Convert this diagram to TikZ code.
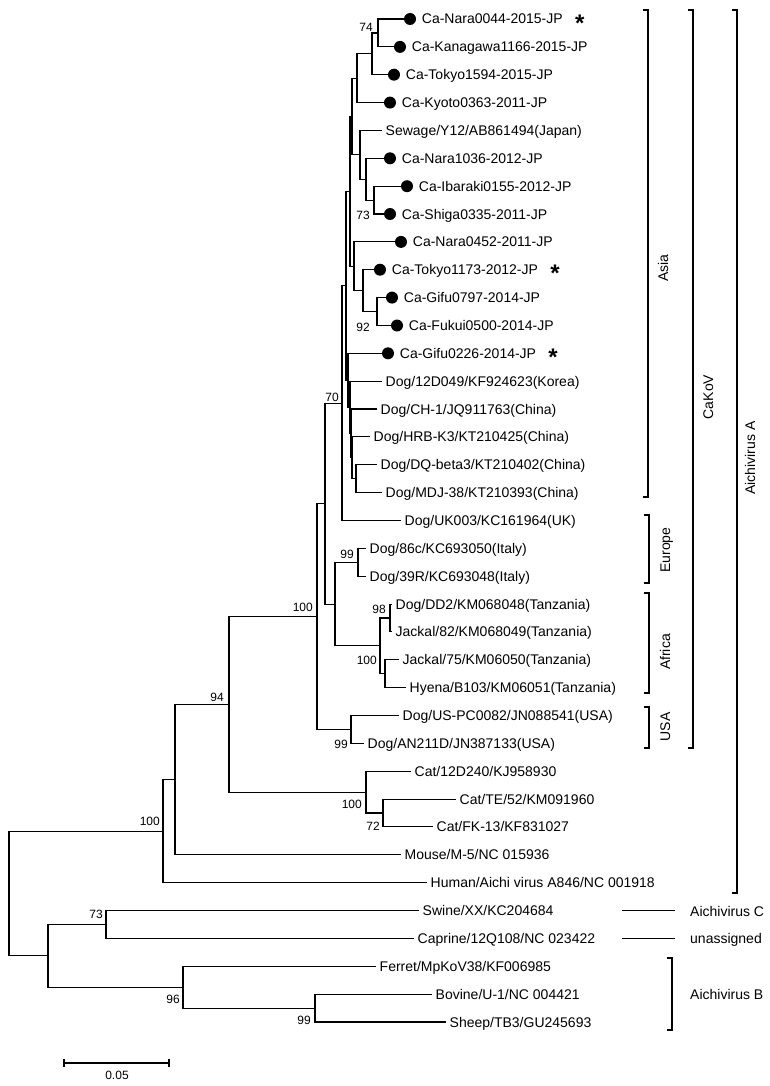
\documentclass[tikz,border=0pt]{standalone}
\usepackage{fontspec}
\setmainfont{Liberation Sans}
\usetikzlibrary{positioning}

\begin{document}
\begin{tikzpicture}[x=1pt, y=-1pt,
  branch/.style={line width=1.1pt},
  dot/.style={circle, fill, inner sep=0pt, minimum size=12pt},
  leaf/.style={font=\fontsize{14}{16}\selectfont, inner sep=0pt, text height=10pt, text depth=0pt},
  boot/.style={font=\fontsize{12}{14}\selectfont, inner sep=0pt, text height=8.6pt, text depth=0pt, anchor=east},
  star/.style={font=\fontsize{24}{26}\selectfont\bfseries, inner sep=0pt},
  clade/.style={font=\fontsize{14}{16}\selectfont, inner sep=0pt, text height=10pt, text depth=0pt}]
  \useasboundingbox (0,0) rectangle (770,1086);

  % nodi interni
  \coordinate (n74) at (378,33.0);
  \coordinate (na) at (372,53.9);
  \coordinate (nb) at (357,78.2);
  \coordinate (n73) at (374,200.1);
  \coordinate (nc6) at (366,179.2);
  \coordinate (ns) at (360,154.8);
  \coordinate (nc) at (352,116.5);
  \coordinate (n92) at (377,311.6);
  \coordinate (nt) at (363,290.6);
  \coordinate (np) at (354,266.3);
  \coordinate (nq) at (350,191.4);
  \coordinate (nd1) at (356,478.7);
  \coordinate (nd2) at (352,457.8);
  \coordinate (nd3) at (351,433.4);
  \coordinate (nk) at (350,407.3);
  \coordinate (ng) at (348,380.3);
  \coordinate (asia) at (346,285.9);
  \coordinate (n70) at (342,403.2);
  \coordinate (neu) at (358,562.3);
  \coordinate (n98) at (390,618.0);
  \coordinate (nj) at (385,673.7);
  \coordinate (naf) at (380,645.9);
  \coordinate (nea) at (335,604.1);
  \coordinate (nx) at (325,503.7);
  \coordinate (nusa) at (351,729.5);
  \coordinate (n100) at (317,616.6);
  \coordinate (ncat2) at (383,813.0);
  \coordinate (ncat) at (366,792.1);
  \coordinate (n94) at (229,704.4);
  \coordinate (nm) at (175,779.6);
  \coordinate (nA) at (163,831.2);
  \coordinate (nsc) at (106,924.5);
  \coordinate (nbs) at (315,1008.1);
  \coordinate (nfb) at (183,987.2);
  \coordinate (nbc) at (48,955.9);
  \coordinate (root) at (9,893.6);

  % foglie con pallino
  \node[dot] (d0) at (410,19.0) {};
  \node[dot] (d1) at (400,46.9) {};
  \node[dot] (d2) at (394,74.7) {};
  \node[dot] (d3) at (390,102.6) {};
  \node[dot] (d5) at (390,158.3) {};
  \node[dot] (d6) at (407,186.2) {};
  \node[dot] (d7) at (390,214.0) {};
  \node[dot] (d8) at (401,241.9) {};
  \node[dot] (d9) at (380,269.7) {};
  \node[dot] (d10) at (392,297.6) {};
  \node[dot] (d11) at (397,325.5) {};
  \node[dot] (d12) at (388,353.3) {};
  \node[leaf, right=5.5pt of d0] (l0) {Ca-Nara0044-2015-JP};
  \node[leaf, right=5.5pt of d1] (l1) {Ca-Kanagawa1166-2015-JP};
  \node[leaf, right=5.5pt of d2] (l2) {Ca-Tokyo1594-2015-JP};
  \node[leaf, right=5.5pt of d3] (l3) {Ca-Kyoto0363-2011-JP};
  \node[leaf, right=5.5pt of d5] (l5) {Ca-Nara1036-2012-JP};
  \node[leaf, right=5.5pt of d6] (l6) {Ca-Ibaraki0155-2012-JP};
  \node[leaf, right=5.5pt of d7] (l7) {Ca-Shiga0335-2011-JP};
  \node[leaf, right=5.5pt of d8] (l8) {Ca-Nara0452-2011-JP};
  \node[leaf, right=5.5pt of d9] (l9) {Ca-Tokyo1173-2012-JP};
  \node[leaf, right=5.5pt of d10] (l10) {Ca-Gifu0797-2014-JP};
  \node[leaf, right=5.5pt of d11] (l11) {Ca-Fukui0500-2014-JP};
  \node[leaf, right=5.5pt of d12] (l12) {Ca-Gifu0226-2014-JP};
  \node[star, right=12pt of l0, yshift=-4pt] (s0) {*};
  \node[star, right=12pt of l9, yshift=-4pt] (s9) {*};
  \node[star, right=12pt of l12, yshift=-4pt] (s12) {*};

  % altre foglie
  \coordinate (t4) at (382,130.4);
  \coordinate (t13) at (382,381.2);
  \coordinate (t14) at (377,409.0);
  \coordinate (t15) at (370,436.9);
  \coordinate (t16) at (377,464.8);
  \coordinate (t17) at (382,492.6);
  \coordinate (t18) at (401,520.5);
  \coordinate (t19) at (366,548.3);
  \coordinate (t20) at (366,576.2);
  \coordinate (t21) at (392,604.1);
  \coordinate (t22) at (392,631.9);
  \coordinate (t23) at (399,659.8);
  \coordinate (t24) at (406,687.6);
  \coordinate (t25) at (399,715.5);
  \coordinate (t26) at (364,743.4);
  \coordinate (t27) at (411,771.2);
  \coordinate (t28) at (456,799.1);
  \coordinate (t29) at (433,826.9);
  \coordinate (t30) at (401,854.8);
  \coordinate (t31) at (427,882.7);
  \coordinate (t32) at (419,910.5);
  \coordinate (t33) at (414,938.4);
  \coordinate (t34) at (376,966.2);
  \coordinate (t35) at (432,994.1);
  \coordinate (t36) at (446,1022.0);
  \node[leaf, right=3.5pt of t4] (l4) {Sewage/Y12/AB861494(Japan)};
  \node[leaf, right=3.5pt of t13] (l13) {Dog/12D049/KF924623(Korea)};
  \node[leaf, right=3.5pt of t14] (l14) {Dog/CH-1/JQ911763(China)};
  \node[leaf, right=3.5pt of t15] (l15) {Dog/HRB-K3/KT210425(China)};
  \node[leaf, right=3.5pt of t16] (l16) {Dog/DQ-beta3/KT210402(China)};
  \node[leaf, right=3.5pt of t17] (l17) {Dog/MDJ-38/KT210393(China)};
  \node[leaf, right=3.5pt of t18] (l18) {Dog/UK003/KC161964(UK)};
  \node[leaf, right=3.5pt of t19] (l19) {Dog/86c/KC693050(Italy)};
  \node[leaf, right=3.5pt of t20] (l20) {Dog/39R/KC693048(Italy)};
  \node[leaf, right=3.5pt of t21] (l21) {Dog/DD2/KM068048(Tanzania)};
  \node[leaf, right=3.5pt of t22] (l22) {Jackal/82/KM068049(Tanzania)};
  \node[leaf, right=3.5pt of t23] (l23) {Jackal/75/KM06050(Tanzania)};
  \node[leaf, right=3.5pt of t24] (l24) {Hyena/B103/KM06051(Tanzania)};
  \node[leaf, right=3.5pt of t25] (l25) {Dog/US-PC0082/JN088541(USA)};
  \node[leaf, right=3.5pt of t26] (l26) {Dog/AN211D/JN387133(USA)};
  \node[leaf, right=3.5pt of t27] (l27) {Cat/12D240/KJ958930};
  \node[leaf, right=3.5pt of t28] (l28) {Cat/TE/52/KM091960};
  \node[leaf, right=3.5pt of t29] (l29) {Cat/FK-13/KF831027};
  \node[leaf, right=3.5pt of t30] (l30) {Mouse/M-5/NC 015936};
  \node[leaf, right=3.5pt of t31] (l31) {Human/Aichi virus A846/NC 001918};
  \node[leaf, right=3.5pt of t32] (l32) {Swine/XX/KC204684};
  \node[leaf, right=3.5pt of t33] (l33) {Caprine/12Q108/NC 023422};
  \node[leaf, right=3.5pt of t34] (l34) {Ferret/MpKoV38/KF006985};
  \node[leaf, right=3.5pt of t35] (l35) {Bovine/U-1/NC 004421};
  \node[leaf, right=3.5pt of t36] (l36) {Sheep/TB3/GU245693};

  % rami
  \foreach \p/\c in {n74/d0, n74/d1, na/n74, na/d2, nb/na, nb/d3,
      n73/d6, n73/d7, nc6/d5, nc6/n73, ns/t4, ns/nc6, nc/nb, nc/ns,
      n92/d10, n92/d11, nt/d9, nt/n92, np/d8, np/nt, nq/nc, nq/np,
      nd1/t16, nd1/t17, nd2/t15, nd2/nd1, nd3/t14, nd3/nd2, nk/t13, nk/nd3,
      ng/d12, ng/nk, asia/nq, asia/ng, n70/asia, n70/t18,
      neu/t19, neu/t20, n98/t21, n98/t22, nj/t23, nj/t24, naf/n98, naf/nj,
      nea/neu, nea/naf, nx/n70, nx/nea, nusa/t25, nusa/t26, n100/nx, n100/nusa,
      ncat2/t28, ncat2/t29, ncat/t27, ncat/ncat2, n94/n100, n94/ncat,
      nm/n94, nm/t30, nA/nm, nA/t31, nsc/t32, nsc/t33, nbs/t35, nbs/t36,
      nfb/t34, nfb/nbs, nbc/nsc, nbc/nfb, root/nA, root/nbc}{
    \draw[branch] (\p) |- (\c);
  }

  % valori di bootstrap
  \node[boot] (b74) at (373,27) {74};
  \node[boot] (b73a) at (370,215) {73};
  \node[boot] (b92) at (370,327) {92};
  \node[boot] (b70) at (339,397) {70};
  \node[boot] (b99a) at (354,554) {99};
  \node[boot] (b100a) at (313,607) {100};
  \node[boot] (b98) at (386,609) {98};
  \node[boot] (b100b) at (377,660) {100};
  \node[boot] (b99b) at (348,744) {99};
  \node[boot] (b94) at (224,697) {94};
  \node[boot] (b100c) at (160,821) {100};
  \node[boot] (b100d) at (362,804) {100};
  \node[boot] (b72) at (380,826) {72};
  \node[boot] (b73b) at (103,914) {73};
  \node[boot] (b96) at (180,999) {96};
  \node[boot] (b99c) at (311,1020) {99};

  % parentesi dei gruppi
  \draw[branch] (643,10) -- (648,10) -- (648,497) -- (643,497);
  \node[clade, rotate=90] (gasia) at (663,268) {Asia};
  \draw[branch] (644,515) -- (649,515) -- (649,583) -- (644,583);
  \node[clade, rotate=90] (geu) at (665,550) {Europe};
  \draw[branch] (644,593) -- (649,593) -- (649,693) -- (644,693);
  \node[clade, rotate=90] (gaf) at (665,652) {Africa};
  \draw[branch] (644,707) -- (649,707) -- (649,748) -- (644,748);
  \node[clade, rotate=90] (gusa) at (665,727) {USA};
  \draw[branch] (688,10) -- (693,10) -- (693,748) -- (688,748);
  \node[clade, rotate=90] (gcakov) at (708,397) {CaKoV};
  \draw[branch] (732,10) -- (737,10) -- (737,893) -- (732,893);
  \node[clade, rotate=90] (gaia) at (750,458) {Aichivirus A};
  \draw[branch] (622,910.5) -- (675,910.5);
  \node[clade, anchor=west] (gaic) at (690,911) {Aichivirus C};
  \draw[branch] (622,938.4) -- (675,938.4);
  \node[clade, anchor=west] (gun) at (690,938.4) {unassigned};
  \draw[branch] (667,958) -- (672,958) -- (672,1030) -- (667,1030);
  \node[clade, anchor=west] (gaib) at (690,994) {Aichivirus B};

  % barra di scala
  \coordinate (sa) at (64,1063);
  \coordinate (sb) at (169,1063);
  \draw[branch] (sa) -- (sb);
  \draw[branch] ([yshift=4pt]sa) -- ([yshift=-4pt]sa);
  \draw[branch] ([yshift=4pt]sb) -- ([yshift=-4pt]sb);
  \node[boot, anchor=center] (scale) at (117,1075) {0.05};
\end{tikzpicture}
\end{document}
